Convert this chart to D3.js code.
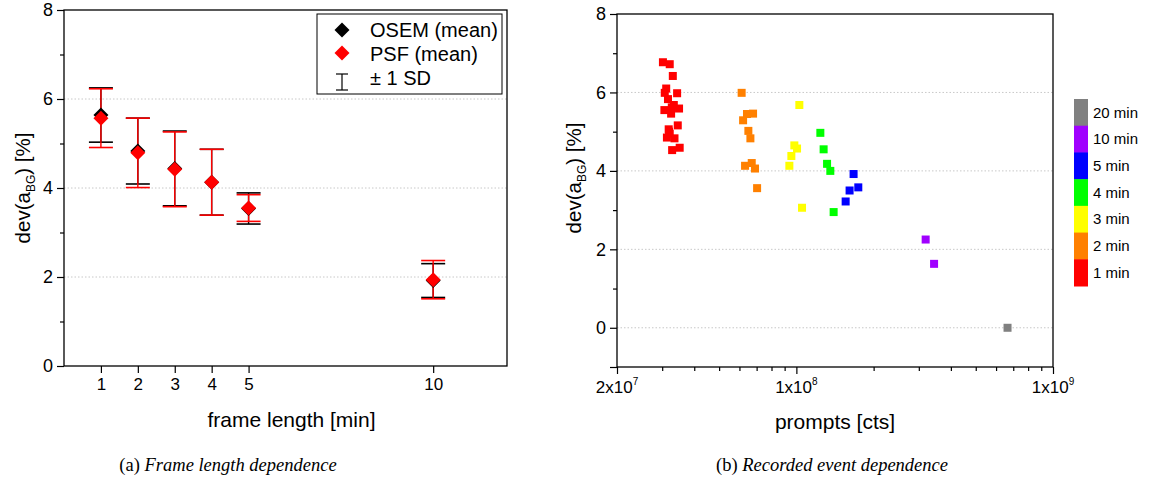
<!DOCTYPE html>
<html>
<head>
<meta charset="utf-8">
<script src="https://cdn.jsdelivr.net/npm/d3@7"></script>
<style>
body{margin:0;background:#fff;}
text{font-family:"Liberation Sans",Arial,sans-serif;fill:#000;}
.cap{font-family:"Liberation Serif","DejaVu Serif",serif;}
</style>
</head>
<body>
<div id="chart"></div>
<script>
// (a) frame length dependence
var frameLen = [1, 2, 3, 4, 5, 10];
var osemMean = [5.64, 4.83, 4.44, 4.13, 3.54, 1.92];
var osemSd = [0.61, 0.74, 0.84, 0.74, 0.35, 0.38];
var psfMean = [5.57, 4.79, 4.42, 4.13, 3.55, 1.94];
var psfSd = [0.66, 0.78, 0.84, 0.74, 0.30, 0.43];
var frameTicks = [1, 2, 3, 4, 5, 10];
var legendNames = ["OSEM (mean)", "PSF (mean)", "\u00b1 1 SD"];

// (b) recorded event dependence, group index: 0=1min .. 6=20min
var groupNames = ["1 min", "2 min", "3 min", "4 min", "5 min", "10 min", "20 min"];
var groupColors = ["#ff0000", "#ff8000", "#ffff00", "#00ff00", "#0000ff", "#a000ff", "#808080"];
var prompts = [
  3.02e7, 3.21e7, 3.30e7, 3.11e7, 3.07e7, 3.43e7, 3.16e7, 3.33e7, 3.49e7, 3.06e7,
  3.25e7, 3.45e7, 3.18e7, 3.21e7, 3.13e7, 3.35e7, 3.51e7, 3.28e7, 3.27e7, 3.19e7,
  6.12e7, 6.42e7, 6.78e7, 6.20e7, 6.50e7, 6.62e7, 6.31e7, 6.70e7, 6.90e7, 7.03e7,
  1.027e8, 9.82e7, 1.006e8, 9.56e7, 9.39e7, 1.052e8,
  1.240e8, 1.277e8, 1.317e8, 1.356e8, 1.397e8,
  1.671e8, 1.743e8, 1.612e8, 1.556e8,
  3.19e8, 3.44e8,
  6.65e8];
var devBG = [
  6.77, 6.72, 6.42, 6.10, 5.99, 5.98, 5.83, 5.68, 5.59, 5.55,
  5.46, 5.16, 5.06, 4.95, 4.85, 4.83, 4.59, 4.53, 5.62, 5.00,
  5.99, 5.45, 5.46, 5.29, 5.02, 4.83, 4.13, 4.20, 4.06, 3.56,
  5.68, 4.65, 4.57, 4.38, 4.13, 3.06,
  4.97, 4.55, 4.18, 4.00, 2.95,
  3.92, 3.58, 3.50, 3.22,
  2.25, 1.63,
  0.00];
var groupOf = [
  0,0,0,0,0,0,0,0,0,0,0,0,0,0,0,0,0,0,0,0,
  1,1,1,1,1,1,1,1,1,1,
  2,2,2,2,2,2,
  3,3,3,3,3,
  4,4,4,4,
  5,5,
  6];
var promptTicksMajor = [2e7, 1e8, 1e9];
var promptTickLabels = [["2x10", "7"], ["1x10", "8"], ["1x10", "9"]];

var W = 1155, H = 486;
var svg = d3.select("#chart").append("svg").attr("width", W).attr("height", H);

// dev(a_BG) [%] label
function yLabel(cx, cy) {
    var t = svg.append("text").attr("transform", "translate(" + cx + "," + cy + ") rotate(-90)")
        .attr("text-anchor", "middle").attr("font-size", 20.5);
    t.append("tspan").text("dev(a");
    t.append("tspan").attr("font-size", 12).attr("dy", 5).text("BG");
    t.append("tspan").attr("dy", -5).text(") [%]");
}

// ---------------- left panel ----------------
var lx = d3.scaleLinear().domain([0, 12]).range([64, 507]);
var ly = d3.scaleLinear().domain([0, 8]).range([366, 10]);

// grid
svg.selectAll(".lgrid").data([2, 4, 6]).enter().append("line")
    .attr("x1", lx(0)).attr("x2", lx(12)).attr("y1", ly).attr("y2", ly)
    .attr("stroke", "#c8c8c8").attr("stroke-width", 1).attr("stroke-dasharray", "1.5,2");

// frame
svg.append("rect").attr("x", lx(0)).attr("y", ly(8)).attr("width", lx(12) - lx(0)).attr("height", ly(0) - ly(8))
    .attr("fill", "none").attr("stroke", "#000").attr("stroke-width", 1.3);

// y ticks
var lyAxis = svg.append("g").attr("transform", "translate(" + lx(0) + ",0)")
    .call(d3.axisLeft(ly).tickValues(d3.range(0, 9)).tickSize(7).tickPadding(4)
        .tickFormat(function(d){ return d % 2 === 0 ? d : ""; }));
lyAxis.select(".domain").remove();
lyAxis.selectAll(".tick line").attr("x2", function(d){ return d % 2 === 0 ? -7 : -4; }).attr("stroke-width", 1.2);
lyAxis.selectAll(".tick text").attr("font-size", 18).attr("font-family", "Liberation Sans, Arial, sans-serif").attr("fill", "#000");

// x ticks
var lxAxis = svg.append("g").attr("transform", "translate(0," + ly(0) + ")")
    .call(d3.axisBottom(lx).tickValues(frameTicks).tickSize(7).tickPadding(5));
lxAxis.select(".domain").remove();
lxAxis.selectAll(".tick line").attr("stroke-width", 1.2);
lxAxis.selectAll(".tick text").attr("font-size", 17).attr("font-family", "Liberation Sans, Arial, sans-serif").attr("fill", "#000");

svg.append("text").attr("x", (lx(0) + lx(12)) / 2 + 6).attr("y", 427).attr("text-anchor", "middle")
    .attr("font-size", 21).text("frame length [min]");
yLabel(30, 188);

// error bars and diamonds
function errBars(mean, sd, col) {
    var g = svg.append("g");
    g.selectAll("line.v").data(frameLen).enter().append("line")
        .attr("x1", lx).attr("x2", lx)
        .attr("y1", function(d, i){ return ly(mean[i] + sd[i]); })
        .attr("y2", function(d, i){ return ly(mean[i] - sd[i]); })
        .attr("stroke", col).attr("stroke-width", 1.4);
    [1, -1].forEach(function(s) {
        g.selectAll("line.c" + s).data(frameLen).enter().append("line")
            .attr("x1", function(d){ return lx(d) - 12; }).attr("x2", function(d){ return lx(d) + 12; })
            .attr("y1", function(d, i){ return ly(mean[i] + s * sd[i]); })
            .attr("y2", function(d, i){ return ly(mean[i] + s * sd[i]); })
            .attr("stroke", col).attr("stroke-width", 1.6);
    });
}
function diamonds(mean, col) {
    svg.selectAll(null).data(frameLen).enter().append("path")
        .attr("d", function(d, i){
            var x = lx(d), y = ly(mean[i]), r = 7.5;
            return "M" + x + "," + (y - r) + "L" + (x + r) + "," + y + "L" + x + "," + (y + r) + "L" + (x - r) + "," + y + "Z";
        })
        .attr("fill", col);
}
errBars(osemMean, osemSd, "#000");
errBars(psfMean, psfSd, "#ff0000");
diamonds(osemMean, "#000");
diamonds(psfMean, "#ff0000");

// legend
svg.append("rect").attr("x", 317).attr("y", 14).attr("width", 185).attr("height", 80)
    .attr("fill", "#fff").attr("stroke", "#000").attr("stroke-width", 1);
[0, 1].forEach(function(k) {
    var y = 30 + k * 23, x = 342, r = 7.5;
    svg.append("path").attr("d", "M" + x + "," + (y - r) + "L" + (x + r) + "," + y + "L" + x + "," + (y + r) + "L" + (x - r) + "," + y + "Z")
        .attr("fill", k === 0 ? "#000" : "#ff0000");
});
svg.append("line").attr("x1", 342).attr("x2", 342).attr("y1", 74).attr("y2", 90).attr("stroke", "#000").attr("stroke-width", 1.2);
svg.append("line").attr("x1", 336).attr("x2", 348).attr("y1", 74).attr("y2", 74).attr("stroke", "#000").attr("stroke-width", 1.2);
svg.append("line").attr("x1", 336).attr("x2", 348).attr("y1", 90).attr("y2", 90).attr("stroke", "#000").attr("stroke-width", 1.2);
svg.selectAll(".legt").data(legendNames).enter().append("text")
    .attr("x", 370).attr("y", function(d, i){ return 30 + i * 24; }).attr("dy", ".35em")
    .attr("font-size", 20).text(function(d){ return d; });

// ---------------- right panel ----------------
var rx = d3.scaleLog().domain([2e7, 1e9]).range([617, 1053]);
var ry = d3.scaleLinear().domain([-1, 8]).range([367, 14]);

svg.selectAll(".rgrid").data([0, 2, 4, 6]).enter().append("line")
    .attr("x1", rx(2e7)).attr("x2", rx(1e9)).attr("y1", ry).attr("y2", ry)
    .attr("stroke", "#c8c8c8").attr("stroke-width", 1).attr("stroke-dasharray", "1.5,2");

svg.append("rect").attr("x", rx(2e7)).attr("y", ry(8)).attr("width", rx(1e9) - rx(2e7)).attr("height", ry(-1) - ry(8))
    .attr("fill", "none").attr("stroke", "#000").attr("stroke-width", 1.3);

var ryAxis = svg.append("g").attr("transform", "translate(" + rx(2e7) + ",0)")
    .call(d3.axisLeft(ry).tickValues(d3.range(-1, 9)).tickSize(7).tickPadding(4)
        .tickFormat(function(d){ return d % 2 === 0 ? d : ""; }));
ryAxis.select(".domain").remove();
ryAxis.selectAll(".tick line").attr("x2", function(d){ return d % 2 === 0 || d === -1 ? -7 : -4; }).attr("stroke-width", 1.2);
ryAxis.selectAll(".tick text").attr("font-size", 18).attr("font-family", "Liberation Sans, Arial, sans-serif").attr("fill", "#000");

// log ticks
var minorTicks = [];
[1e7, 1e8].forEach(function(dec) {
    d3.range(2, 10).forEach(function(m) { if (m * dec > 2e7) minorTicks.push(m * dec); });
});
var rxAxis = svg.append("g").attr("transform", "translate(0," + ry(-1) + ")")
    .call(d3.axisBottom(rx).tickValues(minorTicks).tickSize(4).tickFormat(""));
rxAxis.select(".domain").remove();
rxAxis.selectAll(".tick line").attr("stroke-width", 1.2);
var rxMajor = svg.append("g").attr("transform", "translate(0," + ry(-1) + ")")
    .call(d3.axisBottom(rx).tickValues(promptTicksMajor).tickSize(7).tickFormat(""));
rxMajor.select(".domain").remove();
rxMajor.selectAll(".tick line").attr("stroke-width", 1.2);
promptTicksMajor.forEach(function(v, i) {
    var t = svg.append("text").attr("x", rx(v)).attr("y", 393).attr("text-anchor", "middle").attr("font-size", 17);
    t.append("tspan").text(promptTickLabels[i][0]);
    t.append("tspan").attr("font-size", 10).attr("dy", -8).text(promptTickLabels[i][1]);
});
svg.append("text").attr("x", 835).attr("y", 429).attr("text-anchor", "middle")
    .attr("font-size", 21).text("prompts [cts]");
yLabel(581, 178);

// scatter squares
svg.selectAll(".sq").data(prompts).enter().append("rect")
    .attr("x", function(d){ return rx(d) - 4; })
    .attr("y", function(d, i){ return ry(devBG[i]) - 4; })
    .attr("width", 8).attr("height", 8)
    .attr("fill", function(d, i){ return groupColors[groupOf[i]]; });

// colour bar legend
var cb = d3.scaleBand().domain(d3.range(6, -1, -1)).range([99, 286]);
svg.selectAll(".cb").data(cb.domain()).enter().append("rect")
    .attr("x", 1074).attr("y", cb).attr("width", 14).attr("height", cb.bandwidth() + 0.5)
    .attr("fill", function(d){ return groupColors[d]; });
svg.selectAll(".cbt").data(cb.domain()).enter().append("text")
    .attr("x", 1093).attr("y", function(d){ return cb(d) + cb.bandwidth() / 2; }).attr("dy", ".35em")
    .attr("font-size", 15).text(function(d){ return groupNames[d]; });

// captions
function caption(cx, tag, txt) {
    var t = svg.append("text").attr("class", "cap").attr("x", cx).attr("y", 471).attr("text-anchor", "middle").attr("font-size", 18.5);
    t.append("tspan").text(tag + " ");
    t.append("tspan").attr("font-style", "italic").text(txt);
}
caption(228, "(a)", "Frame length dependence");
caption(832, "(b)", "Recorded event dependence");
</script>
</body>
</html>
